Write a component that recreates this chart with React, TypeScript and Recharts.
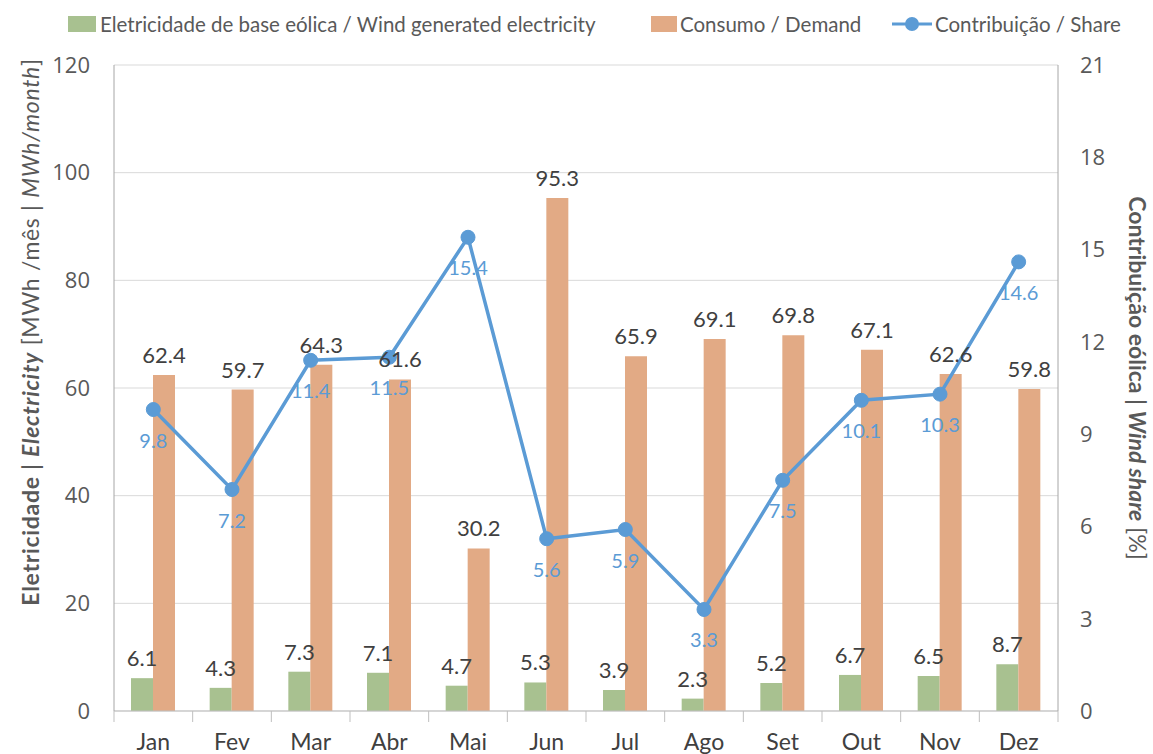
import React from 'react';
import {
  ComposedChart,
  Bar,
  Line,
  XAxis,
  YAxis,
  CartesianGrid,
  LabelList,
  Legend,
} from 'recharts';

const months = ['Jan', 'Fev', 'Mar', 'Abr', 'Mai', 'Jun', 'Jul', 'Ago', 'Set', 'Out', 'Nov', 'Dez'];
const windElectricity = [6.1, 4.3, 7.3, 7.1, 4.7, 5.3, 3.9, 2.3, 5.2, 6.7, 6.5, 8.7];
const demand = [62.4, 59.7, 64.3, 61.6, 30.2, 95.3, 65.9, 69.1, 69.8, 67.1, 62.6, 59.8];
const windShare = [9.8, 7.2, 11.4, 11.5, 15.4, 5.6, 5.9, 3.3, 7.5, 10.1, 10.3, 14.6];
const leftTicks = [0, 20, 40, 60, 80, 100, 120];
const rightTicks = [0, 3, 6, 9, 12, 15, 18, 21];

const GREEN = '#a8c190';
const ORANGE = '#e2aa85';
const BLUE = '#5b9bd5';
const FONT = 'Lato, "Open Sans", sans-serif';
const NUM_FONT = '"Open Sans", sans-serif';

const data = months.map((m, i) => ({
  month: m,
  wind: windElectricity[i],
  demand: demand[i],
  share: windShare[i],
}));

const W = 1153;
const H = 754;
const PLOT_LEFT = 114;
const PLOT_RIGHT = 1058;
const BAND = (PLOT_RIGHT - PLOT_LEFT) / months.length;

const MonthTick = (props: any) => {
  const { x, y, payload, index } = props;
  const left = x - BAND / 2;
  return (
    <g>
      <line x1={left} y1={y - 8} x2={left} y2={y + 3} stroke="#bfbfbf" />
      {index === months.length - 1 && (
        <line x1={left + BAND} y1={y - 8} x2={left + BAND} y2={y + 3} stroke="#bfbfbf" />
      )}
      <text x={x} y={y + 31} textAnchor="middle" fill="#404040" fontSize={23} fontFamily={FONT}>
        {payload.value}
      </text>
    </g>
  );
};

const BarValue = (props: any) => {
  const { x, y, width, value } = props;
  return (
    <text x={x + width / 2} y={y - 12} textAnchor="middle" fill="#404040" fontSize={22} fontFamily={FONT}>
      {value}
    </text>
  );
};

const ShareValue = (props: any) => {
  const { x, y, value } = props;
  return (
    <text x={x} y={y + 38} textAnchor="middle" fill={BLUE} fontSize={20} fontFamily={FONT}>
      {value}
    </text>
  );
};

const LeftTitle = () => {
  const cx = 30;
  const cy = 332;
  return (
    <text
      x={cx}
      y={cy}
      transform={`rotate(-90 ${cx} ${cy})`}
      textAnchor="middle"
      dominantBaseline="central"
      fill="#595959"
      fontSize={23}
      letterSpacing={0.7}
      fontFamily={FONT}
    >
      <tspan fontWeight="bold">Eletricidade  |  </tspan>
      <tspan fontWeight="bold" fontStyle="italic">Electricity</tspan>
      <tspan> [MWh /mês | </tspan>
      <tspan fontStyle="italic">MWh/month</tspan>
      <tspan>]</tspan>
    </text>
  );
};

const RightTitle = () => {
  const cx = 1138;
  const cy = 378;
  return (
    <text
      x={cx}
      y={cy}
      transform={`rotate(90 ${cx} ${cy})`}
      textAnchor="middle"
      dominantBaseline="central"
      fill="#595959"
      fontSize={23}
      fontFamily={FONT}
    >
      <tspan fontWeight="bold">Contribuição eólica | </tspan>
      <tspan fontWeight="bold" fontStyle="italic">Wind share</tspan>
      <tspan> [%]</tspan>
    </text>
  );
};

const TopLegend = () => {
  const text = { position: 'absolute' as const, top: 12, fontSize: 20.5, color: '#595959', fontFamily: FONT, lineHeight: '24px', whiteSpace: 'nowrap' as const };
  return (
    <div style={{ position: 'relative', width: W, height: 50 }}>
      <div style={{ position: 'absolute', left: 68, top: 16, width: 28, height: 16, background: GREEN }} />
      <div style={{ ...text, left: 100 }}>Eletricidade de base eólica / Wind generated electricity</div>
      <div style={{ position: 'absolute', left: 651, top: 16, width: 26, height: 16, background: ORANGE }} />
      <div style={{ ...text, left: 680 }}>Consumo / Demand</div>
      <svg style={{ position: 'absolute', left: 890, top: 12 }} width={44} height={24}>
        <line x1={2} y1={12} x2={42} y2={12} stroke={BLUE} strokeWidth={3} />
        <circle cx={22} cy={12} r={7} fill={BLUE} />
      </svg>
      <div style={{ ...text, left: 935 }}>Contribuição / Share</div>
    </div>
  );
};

export default function App() {
  return (
    <div style={{ position: 'absolute', left: 0, top: 0, width: W, height: H, background: '#fff' }}>
      <ComposedChart
        width={W}
        height={H}
        data={data}
        margin={{ top: 15, right: 45, bottom: 3, left: 54 }}
        barGap={0}
      >
        <CartesianGrid yAxisId="left" vertical={false} stroke="#d9d9d9" />
        <XAxis
          dataKey="month"
          height={40}
          tick={<MonthTick />}
          tickLine={false}
          axisLine={{ stroke: '#bfbfbf' }}
          interval={0}
        />
        <YAxis
          yAxisId="left"
          width={60}
          domain={[0, 120]}
          ticks={leftTicks}
          tickLine={false}
          axisLine={{ stroke: '#a6a6a6' }}
          tick={{ fill: '#595959', fontSize: 22, fontFamily: NUM_FONT }}
          tickMargin={18}
          label={<LeftTitle />}
        />
        <YAxis
          yAxisId="right"
          orientation="right"
          width={50}
          domain={[0, 21]}
          ticks={rightTicks}
          tickLine={false}
          axisLine={{ stroke: '#a6a6a6' }}
          tick={{ fill: '#595959', fontSize: 22, fontFamily: NUM_FONT, textAnchor: 'start' }}
          tickMargin={16}
          label={<RightTitle />}
        />
        <Legend verticalAlign="top" align="left" height={50} content={<TopLegend />} wrapperStyle={{ top: 0, left: 0 }} />
        <Bar
          yAxisId="left"
          dataKey="wind"
          name="Eletricidade de base eólica / Wind generated electricity"
          fill={GREEN}
          barSize={22}
          isAnimationActive={false}
        >
          <LabelList dataKey="wind" content={<BarValue />} />
        </Bar>
        <Bar
          yAxisId="left"
          dataKey="demand"
          name="Consumo / Demand"
          fill={ORANGE}
          barSize={22}
          isAnimationActive={false}
        >
          <LabelList dataKey="demand" content={<BarValue />} />
        </Bar>
        <Line
          yAxisId="right"
          dataKey="share"
          name="Contribuição / Share"
          stroke={BLUE}
          strokeWidth={3.5}
          dot={{ r: 7, fill: BLUE, stroke: BLUE, strokeWidth: 1 }}
          activeDot={false}
          isAnimationActive={false}
        >
          <LabelList dataKey="share" content={<ShareValue />} />
        </Line>
      </ComposedChart>
    </div>
  );
}
